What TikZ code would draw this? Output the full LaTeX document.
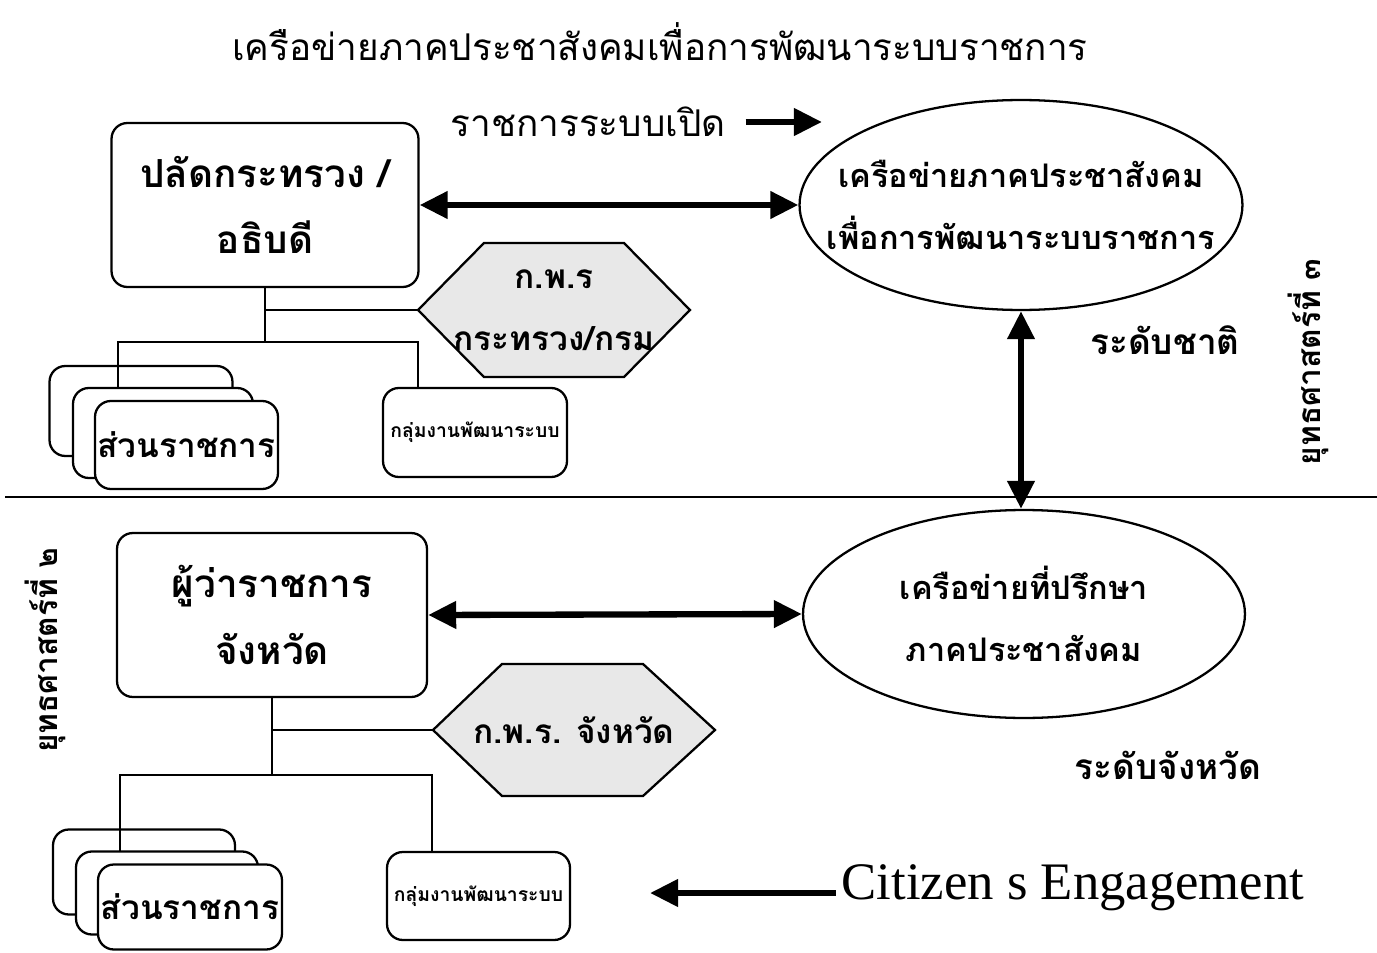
\documentclass[tikz,border=0pt]{standalone}
\usepackage{fontspec}
\newfontfamily\thai[Script=Thai]{Loma}
\newfontfamily\enserif{Liberation Serif}
\usetikzlibrary{arrows.meta,shapes.geometric,calc}
\tikzset{
  boxst/.style={draw,line width=1.3pt,rounded corners=9pt,fill=white,inner sep=0pt,align=center},
  ellst/.style={draw,ellipse,line width=1.3pt,inner sep=0pt},
  hexfill/.style={draw,line width=1.3pt,fill=black!9,line join=miter},
  txt/.style={align=center,inner sep=0pt},
  big/.style={font=\thai\bfseries\fontsize{22}{38}\selectfont},
  med/.style={font=\thai\bfseries\fontsize{19}{35}\selectfont},
  ellfont/.style={font=\thai\bfseries\fontsize{18.5}{35}\selectfont},
  lvl/.style={font=\thai\bfseries\fontsize{20}{24}\selectfont},
  small/.style={font=\thai\bfseries\fontsize{11}{13}\selectfont},
  vert/.style={rotate=90,font=\thai\bfseries\fontsize{18}{21}\selectfont},
  dbl/.style={line width=3.6pt,{Triangle[length=16pt,width=15pt]}-{Triangle[length=16pt,width=15pt]}},
  sgl/.style={line width=3.6pt,-{Triangle[length=16pt,width=15pt]}},
  ln/.style={line width=1.2pt},
}
\begin{document}
\begin{tikzpicture}[x=0.02cm,y=-0.02cm]
\useasboundingbox (0,0) rectangle (1377,953);
% title
\node (title) at (660,42) {\thai\fontsize{21}{25}\selectfont เครือข่ายภาคประชาสังคมเพื่อการพัฒนาระบบราชการ};
\node (open) at (588,122) {\thai\fontsize{21}{25}\selectfont ราชการระบบเปิด};
\coordinate (openend) at (822,122);
\draw[sgl] ([xshift=8pt]open.east) -- (openend);

% national level
\node[boxst,big,minimum width=6.14cm,minimum height=3.28cm] (box1) at (265,205) {ปลัดกระทรวง /\\อธิบดี};
\node[ellst,minimum width=8.86cm,minimum height=4.2cm] (ell1) at (1021,205) {};
\node[txt,ellfont] (ell1t) at (ell1.center) {เครือข่ายภาคประชาสังคม\\เพื่อการพัฒนาระบบราชการ};
\draw[dbl] (box1.east) -- (ell1.west);
% hexagon 1
\coordinate (hex1) at (554,310);
\coordinate (hex1w) at ($(hex1)+(-136,0)$);
\coordinate (hex1e) at ($(hex1)+(136,0)$);
\draw[hexfill] (hex1w) -- ($(hex1)+(-70,-67)$) -- ($(hex1)+(70,-67)$) -- (hex1e) -- ($(hex1)+(70,67)$) -- ($(hex1)+(-70,67)$) -- cycle;
\node[txt,med] (hex1t) at (hex1) {ก.พ.ร\\กระทรวง/กรม};
\node[boxst,minimum width=3.66cm,minimum height=1.8cm] (back1) at (141,411) {};
\node[boxst,minimum width=3.6cm,minimum height=1.8cm] (mid1) at (163,433) {};
\node[boxst,med,minimum width=3.66cm,minimum height=1.76cm] (front1) at (186.5,445) {ส่วนราชการ};
\node[boxst,small,minimum width=3.68cm,minimum height=1.78cm] (small1) at (475,432.5) {กลุ่มงานพัฒนาระบบ};
\coordinate (h1) at (265,342);
\coordinate (a1) at (118,388);
\coordinate (b1) at (418,388);
\draw[ln] (box1.south) |- (hex1w);
\draw[ln] (box1.south) -- (h1);
\draw[ln] (a1) |- (h1) -| (b1);
\node[lvl] (natl) at (1165,340) {ระดับชาติ};
\node[vert] (str3) at (1308,362) {ยุทธศาสตร์ที่ ๓};

% divider
\coordinate (dl) at (5,497);
\coordinate (dr) at (1377,497);
\draw[ln] (dl) -- (dr);

% provincial level
\node[boxst,big,minimum width=6.2cm,minimum height=3.28cm] (box2) at (272,615) {ผู้ว่าราชการ\\จังหวัด};
\node[ellst,minimum width=8.84cm,minimum height=4.16cm] (ell2) at (1024,614) {};
\node[txt,ellfont] (ell2t) at (ell2.center) {เครือข่ายที่ปรึกษา\\ภาคประชาสังคม};
\draw[dbl] (box2.east) -- (ell2.west);
\draw[dbl] (ell1.south) -- (ell1.south |- ell2.north);
% hexagon 2
\coordinate (hex2) at (574,730);
\coordinate (hex2w) at ($(hex2)+(-141,0)$);
\coordinate (hex2e) at ($(hex2)+(141,0)$);
\draw[hexfill] (hex2w) -- ($(hex2)+(-72,-66)$) -- ($(hex2)+(69,-66)$) -- (hex2e) -- ($(hex2)+(69,66)$) -- ($(hex2)+(-72,66)$) -- cycle;
\node[txt,med] (hex2t) at (hex2) {ก.พ.ร. จังหวัด};
\node[boxst,minimum width=3.64cm,minimum height=1.7cm] (back2) at (144,872) {};
\node[boxst,minimum width=3.64cm,minimum height=1.66cm] (mid2) at (167,893) {};
\node[boxst,med,minimum width=3.68cm,minimum height=1.7cm] (front2) at (190,907) {ส่วนราชการ};
\node[boxst,small,minimum width=3.66cm,minimum height=1.76cm] (small2) at (478.5,896) {กลุ่มงานพัฒนาระบบ};
\coordinate (h2) at (272,775);
\coordinate (a2) at (120,852);
\coordinate (b2) at (432,852);
\draw[ln] (box2.south) |- (hex2w);
\draw[ln] (box2.south) -- (h2);
\draw[ln] (a2) |- (h2) -| (b2);
\node[lvl] (prov) at (1168,765) {ระดับจังหวัด};
\node[vert] (str2) at (45,650) {ยุทธศาสตร์ที่ ๒};
\node[font=\enserif\fontsize{30}{34}\selectfont] (cit) at (1073,888) {Citizen s Engagement};
\coordinate (citend) at (650,893);
\draw[sgl] (cit.west |- citend) -- (citend);
\end{tikzpicture}
\end{document}
